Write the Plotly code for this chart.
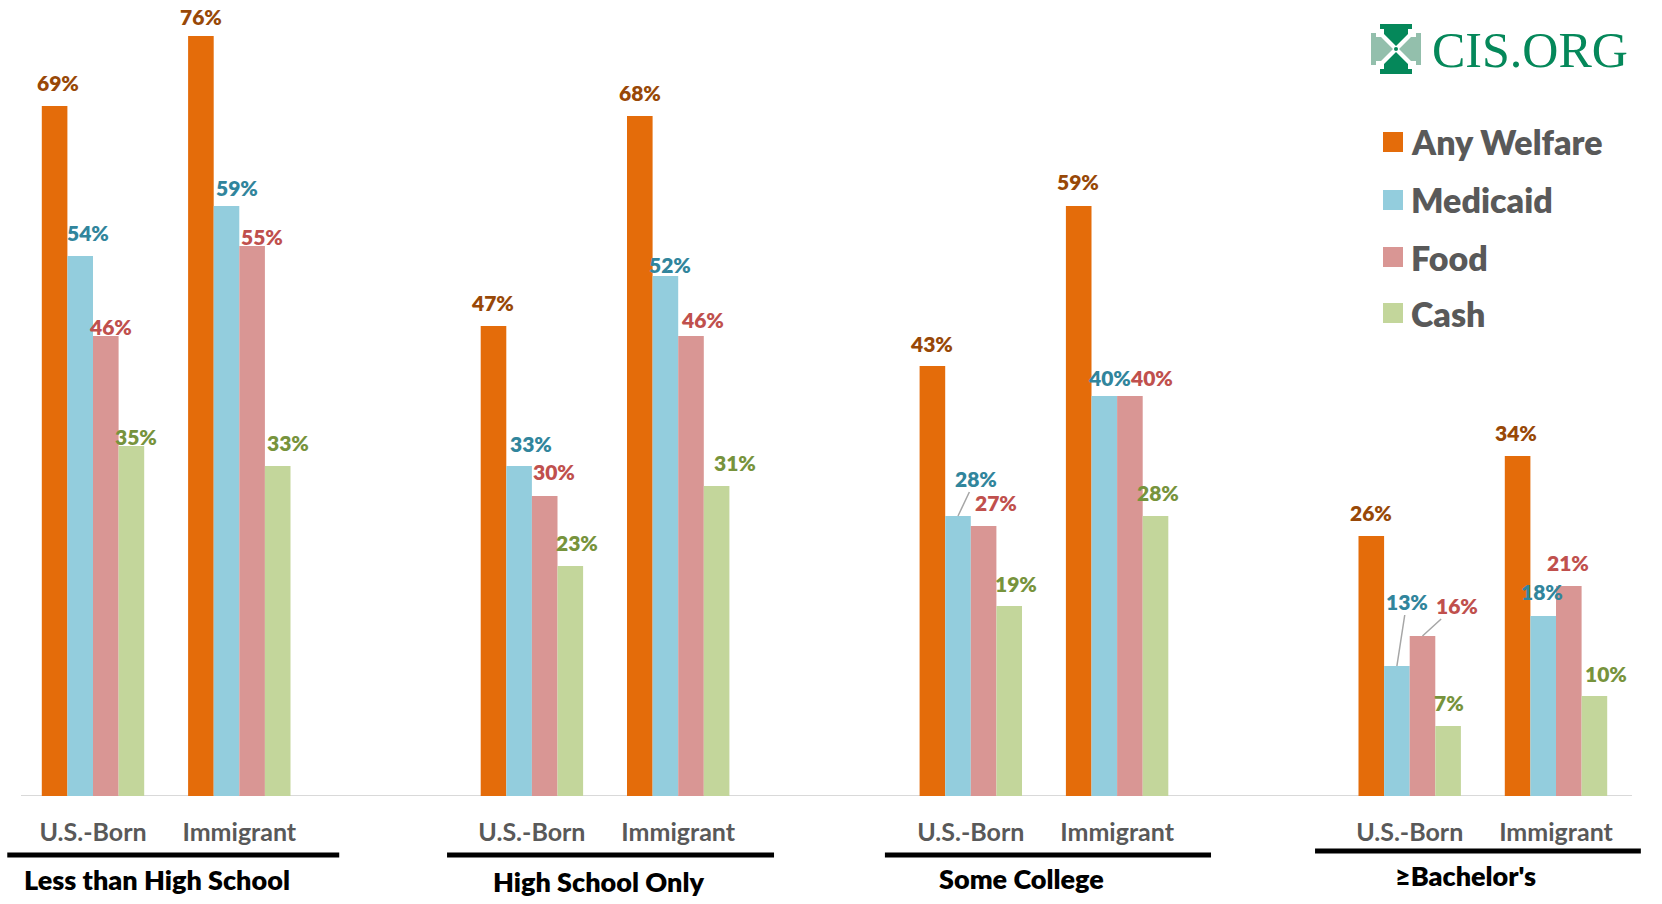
import plotly.graph_objects as go

# ---------------- data ----------------
groups = ["Less than High School", "High School Only", "Some College", "≥Bachelor's"]
origins = ["U.S.-Born", "Immigrant"]
series_names = ["Any Welfare", "Medicaid", "Food", "Cash"]
any_welfare = [69, 76, 47, 68, 43, 59, 26, 34]
medicaid = [54, 59, 33, 52, 28, 40, 13, 18]
food = [46, 55, 30, 46, 27, 40, 16, 21]
cash = [35, 33, 23, 31, 19, 28, 7, 10]
series_values = [any_welfare, medicaid, food, cash]

# ---------------- style ----------------
bar_colors = ["#E46C0A", "#93CDDD", "#D99694", "#C3D69B"]
label_colors = ["#984807", "#31859C", "#C0504D", "#77933C"]
FONT = "Lato"
W, H = 1662, 904
PLOT_BOTTOM = 796          # pixel row of the baseline
UNIT_PX = 146.3            # pixels per x unit
ORIGIN_PX = 93             # pixel column of x = 0
BARGAP = 0.30
BAR_W = (1 - BARGAP) / 4

# label offsets (dx px, dy px above bar top) per series per cluster
label_offsets = [
    [(3, 23), (0, 19), (-1, 23), (0, 23), (-1, 22), (-1, 24), (0, 23), (-2, 23)],
    [(8, 23), (10, 18), (12, 22), (5, 11), (18, 38), (5, 18), (10, 65), (-1, 24)],
    [(5, 9), (10, 9), (9, 24), (11, 16), (12, 23), (22, 18), (34, 31), (-1, 23)],
    [(5, 9), (10, 23), (7, 23), (18, 23), (7, 22), (2, 23), (1, 23), (12, 22)],
]
leader = {(1, 4), (1, 6), (2, 6)}

# group decorations (line extents relative to group centre in x units, px y, label px shift)
group_line = [(-1.086, 1.183, 855), (-1.08, 1.155, 855), (-1.087, 1.142, 855), (-1.147, 1.08, 851)]
group_label = [(-9, 880), (-7, 881), (-22, 879), (-17, 875)]

legend_rows = [142, 200, 257, 313]


def px_x(p):
    return p / W


def px_y(p):
    return 1 - p / PLOT_BOTTOM


# x positions of clusters
xpos = [3 * g + o for g in range(len(groups)) for o in range(len(origins))]
ticktext = [origins[o] for g in range(len(groups)) for o in range(len(origins))]

fig = go.Figure()
for k, name in enumerate(series_names):
    fig.add_trace(go.Bar(
        x=xpos, y=series_values[k], name=name,
        marker=dict(color=bar_colors[k], line=dict(width=0)),
        showlegend=False, hoverinfo="x+y+name",
    ))

annotations = []
shapes = []

# value labels
for k, vals in enumerate(series_values):
    for i, v in enumerate(vals):
        bx = xpos[i] + (k - 1.5) * BAR_W
        dx, dy = label_offsets[k][i]
        font = dict(family=FONT, size=21, color=label_colors[k], weight=800)
        if (k, i) in leader:
            annotations.append(dict(
                x=bx, y=v, xref="x", yref="y", text=f"{v}%", font=font,
                showarrow=True, ax=dx, ay=-dy, arrowhead=0, arrowwidth=1.5,
                arrowcolor="#A6A6A6", standoff=0,
            ))
        else:
            annotations.append(dict(
                x=bx, y=v, xref="x", yref="y", text=f"{v}%", font=font,
                showarrow=False, xshift=dx, yshift=dy + 1, yanchor="middle",
                xanchor="center",
            ))

# baseline
shapes.append(dict(
    type="line", xref="x", yref="y",
    x0=(21 - ORIGIN_PX) / UNIT_PX, x1=(1632 - ORIGIN_PX) / UNIT_PX, y0=0, y1=0,
    line=dict(color="#D9D9D9", width=2), layer="below",
))

# group underlines and labels
for g, name in enumerate(groups):
    gc = 3 * g + 0.5
    a, b, ly = group_line[g]
    shapes.append(dict(
        type="line", xref="x", yref="paper", x0=gc + a, x1=gc + b,
        y0=px_y(ly), y1=px_y(ly), line=dict(color="black", width=5),
    ))
    sx, ty = group_label[g]
    annotations.append(dict(
        x=gc, y=px_y(ty), xref="x", yref="paper", text=name, showarrow=False,
        xshift=sx, xanchor="center", yanchor="middle",
        font=dict(family=FONT, size=27, color="black", weight=800),
    ))

# custom legend
for k, name in enumerate(series_names):
    cy = legend_rows[k]
    shapes.append(dict(
        type="rect", xref="paper", yref="paper",
        x0=px_x(1383), x1=px_x(1403), y0=px_y(cy + 10), y1=px_y(cy - 10),
        fillcolor=bar_colors[k], line=dict(width=0),
    ))
    annotations.append(dict(
        x=px_x(1409), y=px_y(cy), xref="paper", yref="paper", text=name,
        showarrow=False, xanchor="left", yanchor="middle",
        font=dict(family=FONT, size=34, color="#595959", weight=800),
    ))

# logo
DARK = "#05885A"
LIGHT = "#93BFAC"
cx, cy = px_x(1396), px_y(49)
arm_v = "M -16,-25 L 16,-25 L 16,-20 L 12,-20 L 12,-15 L 0,-3 L -12,-15 L -12,-20 L -16,-20 Z"
arm_v2 = "M -16,25 L 16,25 L 16,20 L 12,20 L 12,15 L 0,3 L -12,15 L -12,20 L -16,20 Z"
arm_h = "M -25,-16 L -25,16 L -20,16 L -20,12 L -15,12 L -3,0 L -15,-12 L -20,-12 L -20,-16 Z"
arm_h2 = "M 25,-16 L 25,16 L 20,16 L 20,12 L 15,12 L 3,0 L 15,-12 L 20,-12 L 20,-16 Z"
for path, col in [(arm_v, DARK), (arm_v2, DARK), (arm_h, LIGHT), (arm_h2, LIGHT)]:
    shapes.append(dict(
        type="path", xref="paper", yref="paper", xsizemode="pixel", ysizemode="pixel",
        xanchor=cx, yanchor=cy, path=path, fillcolor=col, line=dict(width=0),
    ))
shapes.append(dict(
    type="circle", xref="paper", yref="paper", xsizemode="pixel", ysizemode="pixel",
    xanchor=cx, yanchor=cy, x0=-2, x1=2, y0=-2, y1=2, fillcolor=DARK, line=dict(width=0),
))
annotations.append(dict(
    x=px_x(1530), y=px_y(50), xref="paper", yref="paper", text="CIS.ORG",
    showarrow=False, xanchor="center", yanchor="middle",
    font=dict(family="Liberation Serif", size=50, color=DARK),
))

fig.update_layout(
    width=W, height=H,
    margin=dict(l=0, r=0, t=0, b=H - PLOT_BOTTOM, pad=0),
    paper_bgcolor="white", plot_bgcolor="white",
    barmode="group", bargap=BARGAP, bargroupgap=0,
    showlegend=False,
    annotations=annotations, shapes=shapes,
    xaxis=dict(
        range=[-ORIGIN_PX / UNIT_PX, (W - ORIGIN_PX) / UNIT_PX],
        tickvals=xpos, ticktext=ticktext, ticks="", showgrid=False,
        zeroline=False, showline=False, ticklabelstandoff=19,
        tickfont=dict(family=FONT, size=25, color="#595959", weight=700),
    ),
    yaxis=dict(range=[0, 79.6], visible=False, showgrid=False, zeroline=False),
)

fig.write_html("out.html")
